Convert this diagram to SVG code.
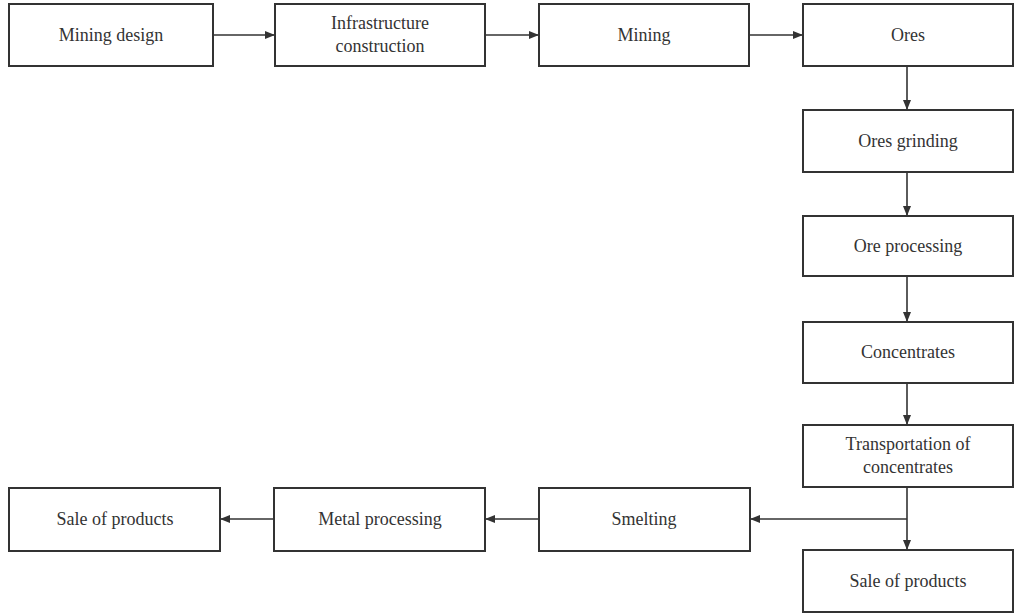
<svg xmlns="http://www.w3.org/2000/svg" width="1017" height="614" viewBox="0 0 1017 614">
<style>
.b{fill:#fff;stroke:#333;stroke-width:2}
.t{font-family:'Liberation Serif','Times New Roman','DejaVu Serif',serif;font-size:18px;fill:#333;text-anchor:middle;dominant-baseline:central}
.c{stroke:#333;stroke-width:1.6;fill:none;marker-end:url(#a)}
</style>
<defs><marker id="a" markerWidth="10" markerHeight="10" refX="9" refY="5" orient="auto" markerUnits="userSpaceOnUse"><path d="M0,1 L10,5 L0,9 Z" fill="#333"/></marker></defs>
<rect width="1017" height="614" fill="#fff"/>
<g id="connectors">
<path class="c" d="M213,35 H274"/>
<path class="c" d="M485,35 H538"/>
<path class="c" d="M749,35 H802"/>
<path class="c" d="M907,66 V109"/>
<path class="c" d="M907,172 V215"/>
<path class="c" d="M907,276 V321"/>
<path class="c" d="M907,383 V424"/>
<path class="c" d="M907,487 V549"/>
<path class="c" d="M907,519 H751"/>
<path class="c" d="M539,519 H486"/>
<path class="c" d="M274,519 H221"/>
</g>
<g id="n1"><rect class="b" x="9" y="4" width="204" height="62"/><text class="t" x="111" y="35">Mining design</text></g>
<g id="n2"><rect class="b" x="275" y="4" width="210" height="62"/><text class="t" x="380" y="23">Infrastructure</text><text class="t" x="380" y="46">construction</text></g>
<g id="n3"><rect class="b" x="539" y="4" width="210" height="62"/><text class="t" x="644" y="35">Mining</text></g>
<g id="n4"><rect class="b" x="803" y="4" width="210" height="62"/><text class="t" x="908" y="35">Ores</text></g>
<g id="n5"><rect class="b" x="803" y="110" width="210" height="62"/><text class="t" x="908" y="141">Ores grinding</text></g>
<g id="n6"><rect class="b" x="803" y="216" width="210" height="60"/><text class="t" x="908" y="246">Ore processing</text></g>
<g id="n7"><rect class="b" x="803" y="322" width="210" height="61"/><text class="t" x="908" y="352">Concentrates</text></g>
<g id="n8"><rect class="b" x="803" y="425" width="210" height="62"/><text class="t" x="908" y="444">Transportation of</text><text class="t" x="908" y="467">concentrates</text></g>
<g id="n9"><rect class="b" x="803" y="550" width="210" height="62"/><text class="t" x="908" y="581">Sale of products</text></g>
<g id="n10"><rect class="b" x="539" y="488" width="211" height="63"/><text class="t" x="644" y="519">Smelting</text></g>
<g id="n11"><rect class="b" x="274" y="488" width="211" height="63"/><text class="t" x="380" y="519">Metal processing</text></g>
<g id="n12"><rect class="b" x="9" y="488" width="211" height="63"/><text class="t" x="115" y="519">Sale of products</text></g>
</svg>
